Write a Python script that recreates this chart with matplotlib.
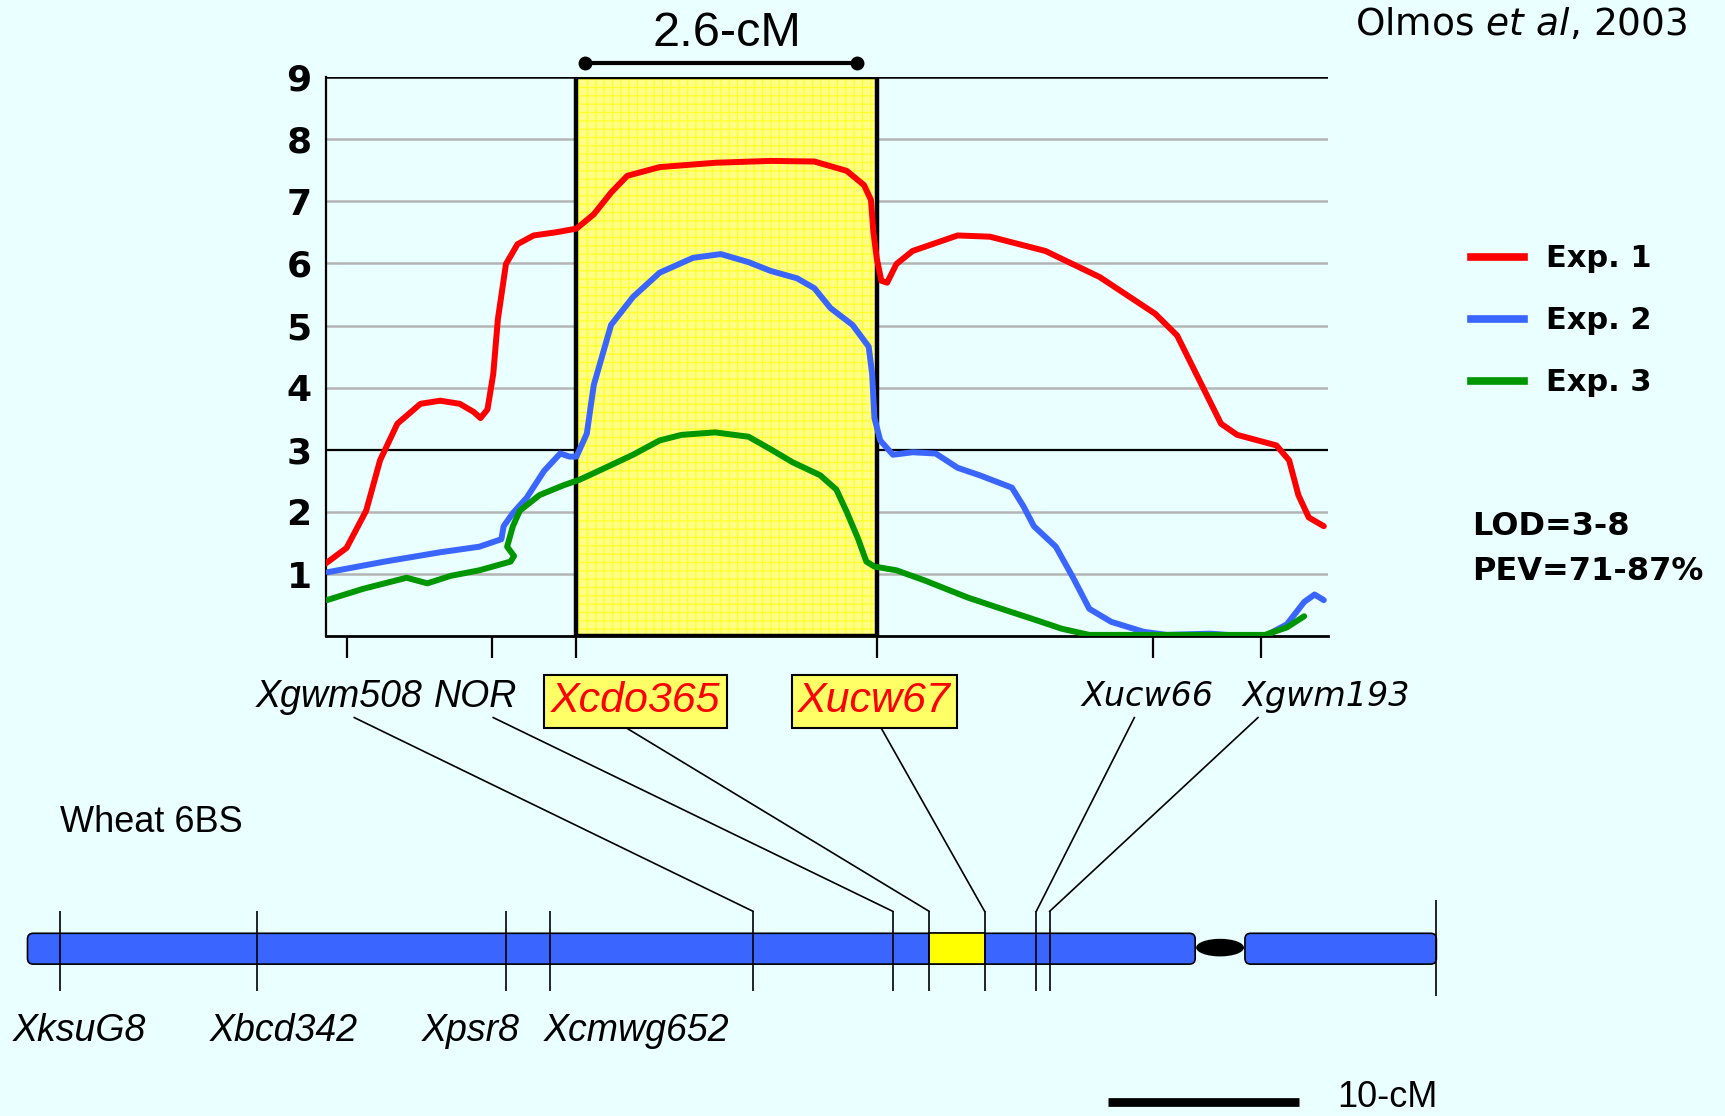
import matplotlib
matplotlib.use("Agg")
import matplotlib.pyplot as plt
from matplotlib.patches import FancyBboxPatch, Ellipse, Rectangle
from matplotlib.lines import Line2D

BG = "#eaffff"
RED = "#ff0000"
BLUE = "#3a66ff"
GREEN = "#009600"

# QTL scan on 6BS, x in cM from Xgwm508
qtl_markers = ["Xgwm508", "NOR", "Xcdo365", "Xucw67", "Xucw66", "Xgwm193"]
qtl_pos = [0.0, 1.26, 1.99, 4.59, 6.98, 7.92]

exp1_cm = [-0.18, 0.00, 0.17, 0.29, 0.44, 0.64, 0.81, 0.98, 1.10, 1.16, 1.22, 1.27,
           1.31, 1.38, 1.48, 1.62, 1.81, 1.99, 2.14, 2.29, 2.43, 2.71, 3.19, 3.67,
           4.05, 4.33, 4.48, 4.54, 4.56, 4.59, 4.63, 4.68, 4.76, 4.90, 5.29, 5.57,
           6.05, 6.52, 7.00, 7.19, 7.38, 7.57, 7.71, 8.05, 8.16, 8.24, 8.33, 8.46]
exp1_lod = [1.17, 1.42, 2.02, 2.83, 3.42, 3.74, 3.79, 3.74, 3.61, 3.51, 3.65, 4.22,
            5.10, 5.99, 6.31, 6.45, 6.50, 6.56, 6.79, 7.14, 7.41, 7.55, 7.62, 7.65,
            7.64, 7.49, 7.26, 7.02, 6.52, 6.08, 5.72, 5.69, 5.99, 6.20, 6.45, 6.43,
            6.20, 5.78, 5.19, 4.84, 4.13, 3.42, 3.24, 3.07, 2.83, 2.27, 1.91, 1.77]

exp2_cm = [-0.16, 0.33, 0.81, 1.15, 1.34, 1.36, 1.44, 1.56, 1.71, 1.85, 1.93, 1.99,
           2.08, 2.14, 2.29, 2.48, 2.71, 3.00, 3.24, 3.48, 3.67, 3.90, 4.05, 4.19,
           4.38, 4.52, 4.55, 4.57, 4.62, 4.73, 4.90, 5.10, 5.29, 5.48, 5.76, 5.86,
           5.95, 6.14, 6.29, 6.43, 6.62, 6.90, 7.10, 7.48, 7.76, 7.95, 8.14, 8.29,
           8.38, 8.46]
exp2_lod = [1.03, 1.20, 1.35, 1.44, 1.56, 1.77, 1.98, 2.23, 2.66, 2.94, 2.89, 2.89,
            3.26, 4.04, 5.01, 5.46, 5.85, 6.09, 6.15, 6.02, 5.88, 5.76, 5.60, 5.28,
            5.01, 4.66, 4.22, 3.51, 3.15, 2.92, 2.96, 2.94, 2.71, 2.59, 2.39, 2.09,
            1.77, 1.44, 0.94, 0.44, 0.23, 0.07, 0.02, 0.04, 0.00, 0.00, 0.19, 0.55,
            0.67, 0.58]

exp3_cm = [-0.17, 0.14, 0.52, 0.70, 0.90, 1.15, 1.42, 1.45, 1.39, 1.44, 1.50, 1.67,
           1.88, 2.02, 2.24, 2.48, 2.71, 2.90, 3.19, 3.48, 3.67, 3.86, 4.10, 4.24,
           4.33, 4.43, 4.50, 4.57, 4.76, 5.00, 5.38, 5.67, 5.95, 6.19, 6.43, 6.81,
           7.29, 7.67, 7.95, 8.14, 8.29]
exp3_lod = [0.58, 0.76, 0.94, 0.85, 0.97, 1.06, 1.20, 1.29, 1.44, 1.77, 2.02, 2.27,
            2.43, 2.52, 2.71, 2.92, 3.15, 3.24, 3.28, 3.21, 3.01, 2.80, 2.59, 2.36,
            2.00, 1.56, 1.20, 1.12, 1.06, 0.90, 0.62, 0.44, 0.27, 0.12, 0.02, 0.02,
            0.02, 0.02, 0.02, 0.14, 0.32]

# wheat 6BS map, cM from the tip
chrom_markers = ["XksuG8", "Xbcd342", "Xpsr8", "Xcmwg652", "Xgwm508", "NOR",
                 "Xcdo365", "Xucw67", "Xucw66", "Xgwm193"]
chrom_pos = [1.7, 12.0, 25.0, 27.3, 37.9, 45.2, 47.1, 50.0, 52.7, 53.4]
short_arm_end = 61.0
centromere = 62.3
long_arm = (63.6, 73.6)
scale_cm = 10

# layout is worked out on a 1568 x 1014 grid
W, H = 1568, 1014
PX_PER_CM = 17.4


def fbox(x0, y0, x1, y1):
    return [x0 / W, 1 - y1 / H, (x1 - x0) / W, (y1 - y0) / H]


fig = plt.figure(figsize=(17.25, 11.16), dpi=100, facecolor=BG)

# full-figure axes for the chromosome drawing: x in map cM, y in layout px
cx = fig.add_axes([0, 0, 1, 1])
cx.set_xlim(-25 / PX_PER_CM, (W - 25) / PX_PER_CM)
cx.set_ylim(H, 0)
cx.axis("off")

ax = fig.add_axes(fbox(296, 70, 1207, 578))
ax.set_facecolor("none")
ax.set_xlim(-0.181, 8.495)
ax.set_ylim(0, 9)

for v in range(1, 9):
    if v != 3:
        ax.axhline(v, color="#b4b4b4", lw=1.8, zorder=0)
ax.axhline(3, color="black", lw=1.6, zorder=0)
ax.axhline(9, color="black", lw=1.8, zorder=0)

# 2.6 cM support interval
ax.axvspan(qtl_pos[2], qtl_pos[3], facecolor="#ffff88", edgecolor="#ffff30",
           hatch="++", lw=0, zorder=1)
ax.axvspan(qtl_pos[2], qtl_pos[3], fill=False, edgecolor="black", lw=3.2, zorder=3)

line_kw = dict(lw=4.3, zorder=4, solid_joinstyle="round", solid_capstyle="round")
ax.plot(exp1_cm, exp1_lod, color=RED, **line_kw)
ax.plot(exp2_cm, exp2_lod, color=BLUE, **line_kw)
ax.plot(exp3_cm, exp3_lod, color=GREEN, **line_kw)

ax.plot([qtl_pos[2] + 0.07, qtl_pos[3] - 0.17], [9.23, 9.23], "-o", color="black",
        lw=3, ms=9, clip_on=False)
ax.text((qtl_pos[2] + qtl_pos[3]) / 2, 9.5, "2.6-cM", ha="center", va="baseline",
        fontsize=35, family="Liberation Sans")

for s in ["top", "right"]:
    ax.spines[s].set_visible(False)
ax.spines["left"].set_linewidth(1.6)
ax.spines["bottom"].set_linewidth(2)
ax.set_yticks(range(1, 10))
ax.set_yticklabels([str(i) for i in range(1, 10)], fontsize=26, fontweight="bold")
ax.tick_params(axis="y", length=0, pad=10)
ax.set_xticks(qtl_pos)
ax.tick_params(axis="x", length=16, width=1.6, direction="out", labelbottom=False)

# legend and stats
handles = [Line2D([], [], color=c, lw=5.5) for c in (RED, BLUE, GREEN)]
fig.legend(handles, ["Exp. 1", "Exp. 2", "Exp. 3"], loc="upper left",
           bbox_to_anchor=(1337 / W, 1 - 222 / H), frameon=False,
           prop={"size": 22, "weight": "bold"}, handlelength=1.75,
           handletextpad=0.7, labelspacing=1.08, borderpad=0, borderaxespad=0)
fig.text(1338 / W, 1 - 478 / H, "LOD=3-8", va="center", fontsize=23, fontweight="bold")
fig.text(1338 / W, 1 - 519 / H, "PEV=71-87%", va="center", fontsize=23, fontweight="bold")
fig.text(1232 / W, 1 - 32 / H, r"Olmos $\it{et\ al}$, 2003", va="baseline", fontsize=27)


def q2c(xq):
    px = ax.transData.transform((xq, 0))[0]
    return cx.transData.inverted().transform((px, 0))[0]


# chromosome
bar_kw = dict(boxstyle="round,pad=0,rounding_size=0.3", mutation_aspect=PX_PER_CM,
              fc=BLUE, ec="black", lw=1.2, zorder=2)
cx.add_patch(FancyBboxPatch((0, 848), short_arm_end, 28, **bar_kw))
cx.add_patch(FancyBboxPatch((long_arm[0], 848), long_arm[1] - long_arm[0], 28, **bar_kw))
cx.add_patch(Ellipse((centromere, 861), 2.5, 16, fc="black", zorder=2))
i_cdo = chrom_markers.index("Xcdo365")
i_ucw = chrom_markers.index("Xucw67")
cx.add_patch(Rectangle((chrom_pos[i_cdo], 848), chrom_pos[i_ucw] - chrom_pos[i_cdo], 28,
                       fc="#ffff00", ec="black", lw=1.2, zorder=3))
cx.vlines(chrom_pos, 828, 900, color="black", lw=1.2, zorder=4)
cx.vlines(long_arm[1], 818, 905, color="black", lw=1.2, zorder=4)

# labels under the chromosome
low_dx = {"XksuG8": 1.0, "Xbcd342": 1.4, "Xpsr8": -1.85, "Xcmwg652": 4.5}
for name, dx in low_dx.items():
    cx.text(chrom_pos[chrom_markers.index(name)] + dx, 937, name, ha="center",
            va="center", fontsize=27, style="italic", family="Liberation Sans")

# labels under the LOD plot, joined to the map
top_style = {
    "Xgwm508": (-0.067, 0.067, 652, "narrow"),
    "NOR": (-0.14, 0.01, 652, "narrow"),
    "Xcdo365": (0.51, 0.41, 660, "boxed"),
    "Xucw67": (-0.02, 0.03, 660, "boxed"),
    "Xucw66": (-0.05, -0.16, 652, "wide"),
    "Xgwm193": (0.56, -0.03, 652, "wide"),
}
for name, (dx_lab, dx_line, y_line, kind) in top_style.items():
    xq = qtl_pos[qtl_markers.index(name)]
    xc = chrom_pos[chrom_markers.index(name)]
    cx.plot([q2c(xq + dx_line), xc], [y_line, 828], color="black", lw=1.2)
    if kind == "narrow":
        cx.text(q2c(xq + dx_lab), 633, name, ha="center", va="center", fontsize=27,
                style="italic", family="Liberation Sans")
    elif kind == "wide":
        cx.text(q2c(xq + dx_lab), 633, name, ha="center", va="center", fontsize=24,
                style="italic", family="DejaVu Sans")
    else:
        cx.text(q2c(xq + dx_lab), 637, name, ha="center", va="center", fontsize=31,
                style="italic", family="Liberation Sans", color=RED,
                bbox=dict(boxstyle="square,pad=0.15", fc="#ffff66", ec="black", lw=1.5))

cx.text(chrom_pos[0], 747, "Wheat 6BS", ha="left", va="center", fontsize=26,
        family="Liberation Sans")

# 10 cM scale bar
sb0 = 56.44
cx.plot([sb0, sb0 + scale_cm], [1001, 1001], color="black", lw=6.3, solid_capstyle="butt")
cx.text(sb0 + scale_cm + 2.0, 997, "10-cM", ha="left", va="center", fontsize=26,
        family="Liberation Sans")

fig.savefig("out.png", dpi=100, facecolor=BG)
